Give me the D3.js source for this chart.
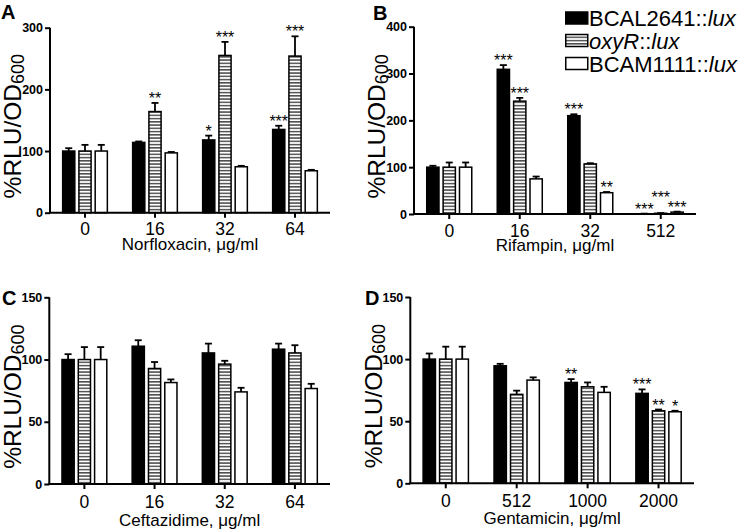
<!DOCTYPE html>
<html><head><meta charset="utf-8">
<script src="https://cdn.jsdelivr.net/npm/d3@7/dist/d3.min.js"></script>
<style>
html,body{margin:0;padding:0;background:#fff;}
svg{display:block;font-family:"Liberation Sans",Arial,Helvetica,sans-serif;}
</style></head>
<body>
<script>
// ---------- DATA ----------
const seriesNames = ["BCAL2641", "oxyR", "BCAM1111"];

const norfloxacinDoses = ["0", "16", "32", "64"];
const norfloxacinMean = [[100, 114, 118, 135], [100, 164, 255, 254], [100, 97, 74.5, 68]];
const norfloxacinErr  = [[4.6, 1.5, 7, 6], [10, 14, 22, 32], [10, 1.5, 1.5, 1.5]];
const norfloxacinSig  = [["", "", "*", "***"], ["", "**", "***", "***"], ["", "", "", ""]];
const norfloxacinTicks = [0, 100, 200, 300];

const rifampinDoses = ["0", "16", "32", "512"];
const rifampinMean = [[100, 309, 210, 0.5], [100, 241, 107, 1.5], [100, 75, 45.5, 4]];
const rifampinErr  = [[3, 9, 3, 0.3], [10, 7, 1.5, 0.5], [10, 5, 1.5, 1]];
const rifampinSig  = [["", "***", "***", "***"], ["", "***", "", "***"], ["", "", "**", "***"]];
const rifampinTicks = [0, 100, 200, 300, 400];

const ceftazidimeDoses = ["0", "16", "32", "64"];
const ceftazidimeMean = [[100, 110.7, 105.3, 108.3], [100, 92.8, 96.3, 105.3], [100, 81.5, 74, 76.7]];
const ceftazidimeErr  = [[4.3, 4.8, 7.5, 4.5], [10, 5.2, 2.7, 6.2], [10, 2.5, 3.3, 3.8]];
const ceftazidimeSig  = [["", "", "", ""], ["", "", "", ""], ["", "", "", ""]];
const ceftazidimeTicks = [0, 50, 100, 150];

const gentamicinDoses = ["0", "512", "1000", "2000"];
const gentamicinMean = [[100, 94.6, 81.2, 72.4], [100, 71.6, 77.7, 58.4], [100, 83.1, 73.2, 57.6]];
const gentamicinErr  = [[4.5, 1.6, 2.7, 3.2], [10, 3, 3.5, 1], [10, 2.2, 4.5, 0.8]];
const gentamicinSig  = [["", "", "**", "***"], ["", "", "", "**"], ["", "", "", "*"]];
const gentamicinTicks = [0, 50, 100, 150];

// ---------- LAYOUT ----------
const W = 742, H = 529;
const panels = [
  {letter: "A", lx: 1, ly: 18.5, x0: 50, x1: 330, y0: 212.7, y1: 27.7, max: 300, ticks: norfloxacinTicks,
   doses: norfloxacinDoses, mean: norfloxacinMean, err: norfloxacinErr, sig: norfloxacinSig,
   title: "Norfloxacin, μg/ml", tickDy: 22.5, titleDy: 37},
  {letter: "B", lx: 373, ly: 20, x0: 414, x1: 696, y0: 214, y1: 26.7, max: 400, ticks: rifampinTicks,
   doses: rifampinDoses, mean: rifampinMean, err: rifampinErr, sig: rifampinSig,
   title: "Rifampin, μg/ml", tickDy: 22.7, titleDy: 37},
  {letter: "C", lx: 2, ly: 305, x0: 49.3, x1: 330, y0: 484, y1: 297.3, max: 150, ticks: ceftazidimeTicks,
   doses: ceftazidimeDoses, mean: ceftazidimeMean, err: ceftazidimeErr, sig: ceftazidimeSig,
   title: "Ceftazidime, μg/ml", tickDy: 23.5, titleDy: 41.5},
  {letter: "D", lx: 365, ly: 305, x0: 410.3, x1: 694, y0: 483.3, y1: 297, max: 150, ticks: gentamicinTicks,
   doses: gentamicinDoses, mean: gentamicinMean, err: gentamicinErr, sig: gentamicinSig,
   title: "Gentamicin, μg/ml", tickDy: 23.4, titleDy: 40.5}
];

const svg = d3.select("body").append("svg").attr("width", W).attr("height", H);
const defs = svg.append("defs");
const pat = defs.append("pattern").attr("id", "stripes").attr("patternUnits", "userSpaceOnUse")
  .attr("width", 8).attr("height", 3.25);
pat.append("rect").attr("width", 8).attr("height", 3.25).attr("fill", "#fff");
pat.append("rect").attr("y", 0.9).attr("width", 8).attr("height", 1.35).attr("fill", "#3a3a3a");

const fills = ["#000", "url(#stripes)", "#fff"];

panels.forEach(p => {
  const g = svg.append("g");
  const y = d3.scaleLinear().domain([0, p.max]).range([p.y0, p.y1]);
  const x = d3.scaleBand().domain(p.doses).range([p.x0, p.x1]).paddingInner(0.34).paddingOuter(0.17);
  const xs = d3.scaleBand().domain(d3.range(3)).range([0, x.bandwidth()]).paddingInner(0.16);

  const recs = [];
  p.doses.forEach((d, i) => {
    for (let s = 0; s < 3; s++) recs.push({d, i, s, v: p.mean[s][i], e: p.err[s][i], sig: p.sig[s][i]});
  });
  const sw = 1.5;
  g.selectAll("rect.bar").data(recs).join("rect").attr("class", "bar")
    .attr("x", r => x(r.d) + xs(r.s) + sw / 2)
    .attr("width", xs.bandwidth() - sw)
    .attr("y", r => y(r.v))
    .attr("height", r => Math.max(0, y(0) - y(r.v)))
    .attr("fill", r => fills[r.s]).attr("stroke", "#000").attr("stroke-width", sw);

  const cx = r => x(r.d) + xs(r.s) + xs.bandwidth() / 2;
  g.selectAll("line.eb").data(recs).join("line").attr("class", "eb")
    .attr("x1", cx).attr("x2", cx).attr("y1", r => y(r.v)).attr("y2", r => y(r.v + r.e))
    .attr("stroke", "#000").attr("stroke-width", 1.8);
  g.selectAll("line.cap").data(recs).join("line").attr("class", "cap")
    .attr("x1", r => cx(r) - 3.5).attr("x2", r => cx(r) + 3.5)
    .attr("y1", r => y(r.v + r.e)).attr("y2", r => y(r.v + r.e))
    .attr("stroke", "#000").attr("stroke-width", 1.8);

  // significance labels with simple collision avoidance
  const labs = recs.filter(r => r.sig).map(r => ({r, x: cx(r), y: y(r.v + r.e) + 1, w: r.sig.length * 6.3}));
  for (let k = 1; k < labs.length; k++) {
    const a = labs[k - 1], b = labs[k];
    if (a.r.d === b.r.d && !a.raised && Math.abs(a.x - b.x) < (a.w + b.w) / 2 && Math.abs(a.y - b.y) < 10) {
      b.y = Math.min(a.y, b.y) - 11.5;
      b.raised = true;
    }
  }
  g.selectAll("text.sig").data(labs).join("text").attr("class", "sig")
    .attr("x", l => l.x).attr("y", l => l.y).attr("text-anchor", "middle")
    .attr("font-size", 16).attr("fill", "#000").text(l => l.r.sig);

  // axes
  const yAxis = d3.axisLeft(y).tickValues(p.ticks).tickSize(5).tickPadding(2).tickFormat(d3.format("d"));
  const ya = g.append("g").attr("transform", `translate(${p.x0},0)`).call(yAxis);
  ya.select(".domain").attr("stroke-width", 2).attr("d", `M0,${p.y0}V${p.y1}`);
  ya.selectAll(".tick line").attr("stroke-width", 2);
  ya.selectAll(".tick text").attr("font-size", 12.5).attr("font-weight", "bold")
    .attr("font-family", "Liberation Sans, Arial, sans-serif").attr("fill", "#000");

  const xAxis = d3.axisBottom(x).tickSize(5).tickSizeOuter(0).tickPadding(0).tickFormat(() => "");
  const xa = g.append("g").attr("transform", `translate(0,${p.y0})`).call(xAxis);
  xa.select(".domain").attr("stroke-width", 2).attr("d", `M${p.x0 - 1},0H${p.x1}`);
  xa.selectAll(".tick line").attr("stroke-width", 2);
  g.selectAll("text.xt").data(p.doses).join("text").attr("class", "xt")
    .attr("x", d => x(d) + x.bandwidth() / 2).attr("y", p.y0 + p.tickDy)
    .attr("text-anchor", "middle").attr("font-size", 17.5).attr("fill", "#000").text(d => d);

  g.append("text").attr("x", (p.x0 + p.x1) / 2).attr("y", p.y0 + p.titleDy)
    .attr("text-anchor", "middle").attr("font-size", 17).attr("fill", "#000").text(p.title);

  const yt = g.append("text")
    .attr("transform", `translate(${p.x0 - 28.8},${(p.y0 + p.y1) / 2 + 6}) rotate(-90)`)
    .attr("text-anchor", "middle").attr("font-size", 24.5).attr("fill", "#000");
  yt.append("tspan").text("%RLU/OD");
  yt.append("tspan").attr("font-size", 18).attr("dy", 3).text("600");

  g.append("text").attr("x", p.lx).attr("y", p.ly).attr("font-size", 20).attr("font-weight", "bold")
    .attr("fill", "#000").text(p.letter);
});

// legend
const leg = svg.append("g");
const legY = [26, 48.5, 71.5];
seriesNames.forEach((n, i) => {
  leg.append("rect").attr("x", 565.75).attr("y", legY[i] - 14).attr("width", 22).attr("height", 12)
    .attr("fill", i === 1 ? "url(#stripes)" : fills[i]).attr("stroke", "#000").attr("stroke-width", 1.5);
  const t = leg.append("text").attr("x", 589).attr("y", legY[i]).attr("font-size", 22).attr("fill", "#000");
  if (i === 1) t.append("tspan").attr("font-style", "italic").text(n);
  else t.append("tspan").text(n);
  t.append("tspan").text("::");
  t.append("tspan").attr("font-style", "italic").text("lux");
});
</script>
</body></html>
